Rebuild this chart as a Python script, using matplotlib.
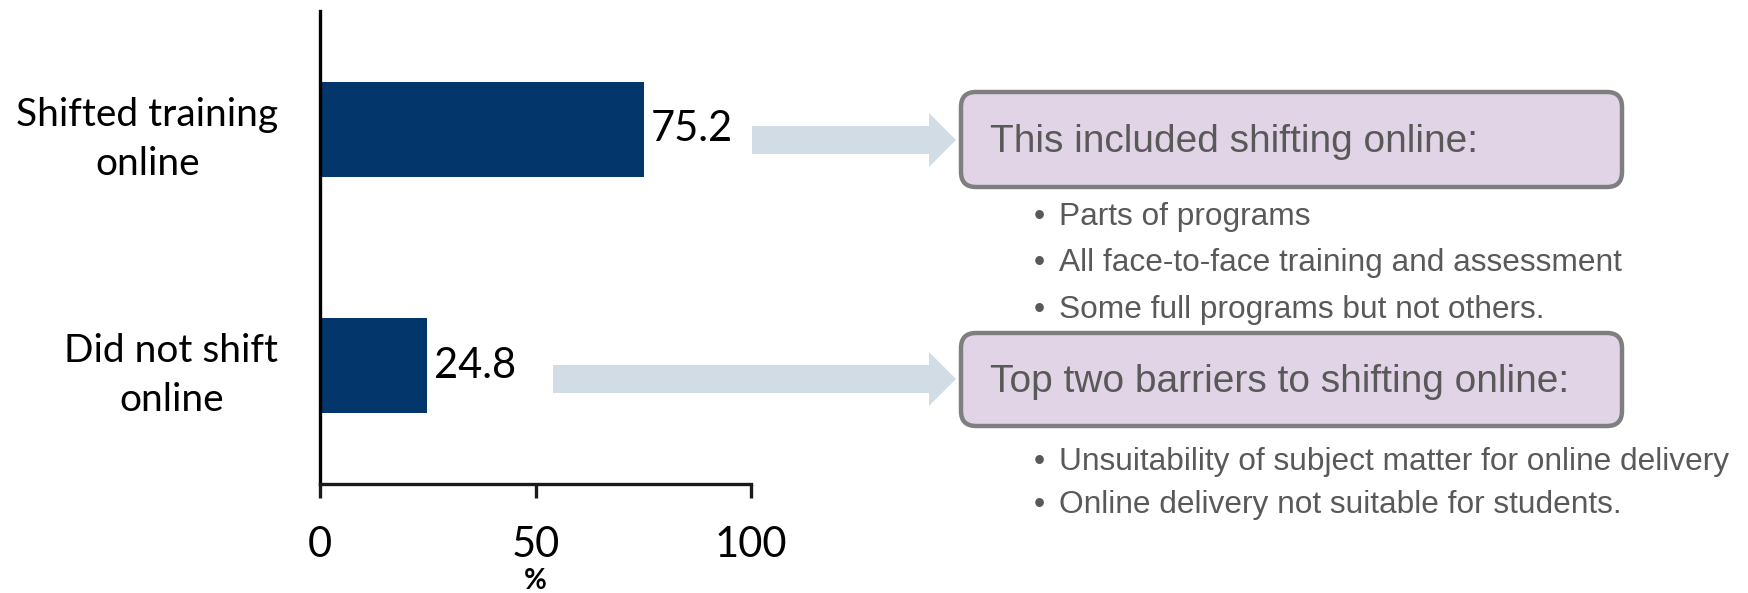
import matplotlib
matplotlib.use("Agg")
import matplotlib.pyplot as plt
from matplotlib.patches import FancyArrow, FancyBboxPatch

# survey result: share of providers (%)
categories = ["Shifted training\nonline", "Did not shift\nonline"]
values = [75.2, 24.8]
x_ticks = [0, 50, 100]

box_titles = ["This included shifting online:", "Top two barriers to shifting online:"]
shift_details = [
    "Parts of programs",
    "All face-to-face training and assessment",
    "Some full programs but not others.",
]
barrier_details = [
    "Unsuitability of subject matter for online delivery",
    "Online delivery not suitable for students.",
]

W, H = 1748, 593
BAR_COLOR = "#03366A"
ARROW_COLOR = "#D1DCE4"
BOX_FILL = "#E2D4E7"
BOX_EDGE = "#7F7F7F"
NOTE_COLOR = "#595959"
CHART_FONT = ["Lato", "DejaVu Sans"]
NOTE_FONT = ["Liberation Sans", "DejaVu Sans"]

fig = plt.figure(figsize=(W / 100, H / 100), dpi=100)

# bar chart on the left
ax = fig.add_axes([320 / W, 1 - 484 / H, 431 / W, 473 / H])
bars = ax.barh(categories, values, height=0.4, color=BAR_COLOR)
ax.bar_label(bars, labels=[f"{v:.1f}" for v in values], padding=5,
             fontsize=30, family=CHART_FONT)
ax.set_xlim(0, 100)
ax.set_ylim(1.5, -0.5)
ax.set_xticks(x_ticks)
ax.set_xticklabels([str(t) for t in x_ticks], fontsize=30, family=CHART_FONT)
for lab in ax.get_yticklabels():
    lab.set_fontsize(28)
    lab.set_family(CHART_FONT)
    lab.set_multialignment("center")
    lab.set_linespacing(1.45)
ax.tick_params(axis="y", length=0, pad=30)
ax.tick_params(axis="x", length=10, width=2.4, pad=20, color="#1a1a1a")
ax.set_xlabel("%", fontsize=20, fontweight="bold", family=CHART_FONT, va="baseline")
ax.xaxis.set_label_coords(0.5, -0.222)
for side in ["top", "right"]:
    ax.spines[side].set_visible(False)
ax.spines["left"].set_linewidth(2.4)
ax.spines["left"].set_color("black")
ax.spines["bottom"].set_linewidth(2.4)
ax.spines["bottom"].set_color("#1a1a1a")

# overlay in pixel units for the arrows and call-out boxes
ov = fig.add_axes([0, 0, 1, 1])
ov.set_xlim(0, W)
ov.set_ylim(H, 0)
ov.axis("off")

for x0, yc in [(752, 140), (553, 379)]:
    ov.add_patch(FancyArrow(x0, yc, 956 - x0, 0, width=28, head_width=54,
                            head_length=27, length_includes_head=True,
                            color=ARROW_COLOR, lw=0))

for (top, bottom), title in zip([(92, 187), (333, 426)], box_titles):
    ov.add_patch(FancyBboxPatch((961, top), 661, bottom - top,
                                boxstyle="round,pad=0,rounding_size=15",
                                facecolor=BOX_FILL, edgecolor=BOX_EDGE, lw=3.2))
    ov.text(990, (top + bottom) / 2 + 13, title, fontsize=28, color=NOTE_COLOR,
            family=NOTE_FONT, va="baseline", ha="left")

for items, baselines in [(shift_details, [225, 271, 318]),
                         (barrier_details, [470, 513])]:
    for item, yb in zip(items, baselines):
        ov.text(1034, yb, "\u2022", fontsize=23, color=NOTE_COLOR,
                family=NOTE_FONT, va="baseline", ha="left")
        ov.text(1059, yb, item, fontsize=22.8, color=NOTE_COLOR,
                family=NOTE_FONT, va="baseline", ha="left")

fig.savefig("out.png", dpi=100)
